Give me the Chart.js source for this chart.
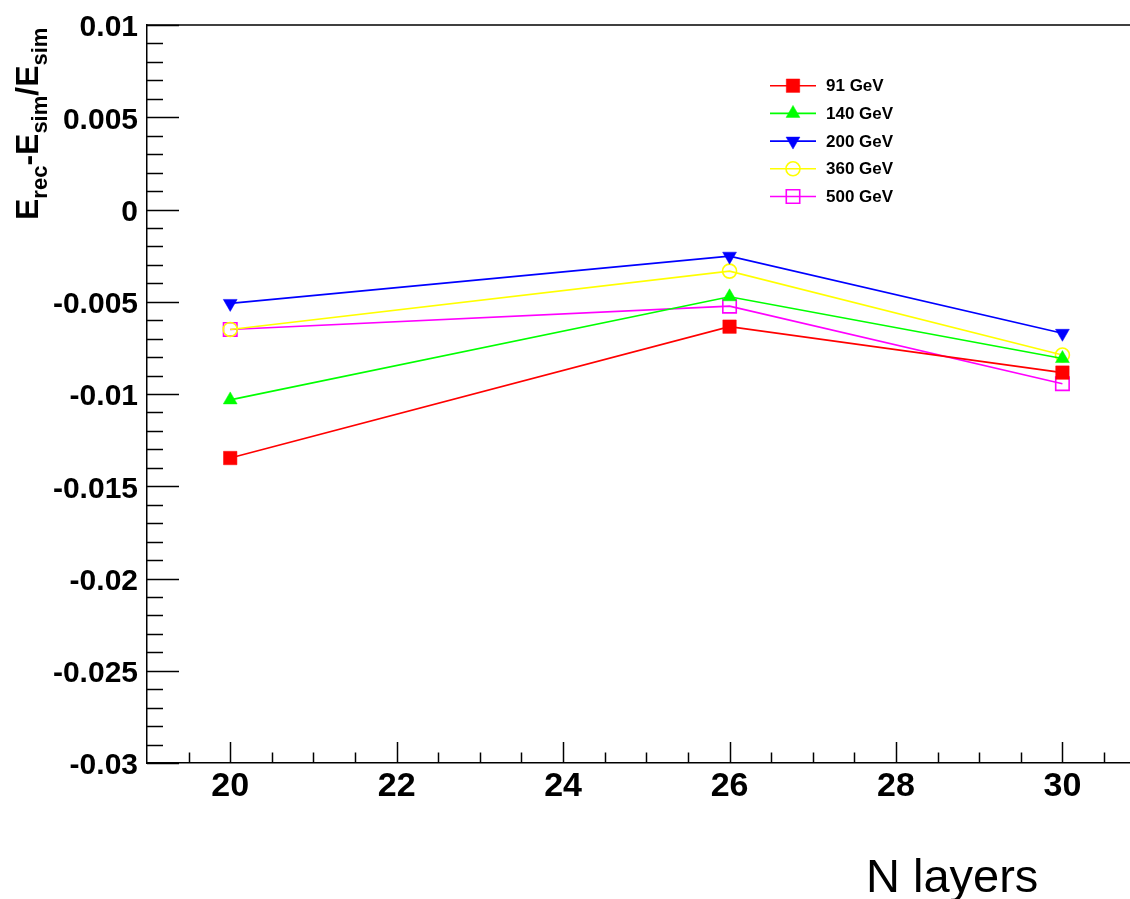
<!DOCTYPE html>
<html>
<head>
<meta charset="utf-8">
<script src="https://cdn.jsdelivr.net/npm/chart.js@4"></script>
<style>
  body { margin: 0; background: #fff; }
  canvas { display: block; }
</style>
</head>
<body>
<canvas id="grafica" width="1130" height="899"></canvas>
<script>
// numero de capas
const capas = [20, 26, 30];
// valores (E_rec - E_sim) / E_sim por energia
const e91 = [-0.01347, -0.00635, -0.00884];
const e140 = [-0.01032, -0.00473, -0.00808];
const e200 = [-0.00509, -0.00253, -0.00671];
const e360 = [-0.00650, -0.00334, -0.00789];
const e500 = [-0.00650, -0.00524, -0.00944];
const etiquetas = ['91 GeV', '140 GeV', '200 GeV', '360 GeV', '500 GeV'];

const FUENTE = '"Liberation Sans", Arial, sans-serif';

/**
 * crea un dataset con el estilo de marcador de ROOT
 */
const serie = (lbl, valores, color, estilo, radio, lleno, rot) => ({
    label: lbl,
    data: capas.map((x, i) => ({ x: x, y: valores[i] })),
    borderColor: color,
    borderWidth: 1.6,
    pointStyle: estilo,
    pointRadius: radio,
    pointRotation: rot || 0,
    pointBackgroundColor: lleno ? color : 'rgba(0,0,0,0)',
    pointBorderColor: color,
    pointBorderWidth: lleno ? 0.5 : 1.6,
    fill: false,
    tension: 0
});

// dibuja marcas de los ejes hacia adentro, borde superior, titulos y leyenda
const decoraciones = {
    id: 'decoraciones',
    afterDraw(chart) {
        const ctx = chart.ctx;
        const area = chart.chartArea;
        const sx = chart.scales.x, sy = chart.scales.y;
        ctx.save();
        ctx.strokeStyle = '#000';
        ctx.lineWidth = 1.5;
        // borde superior
        ctx.beginPath();
        ctx.moveTo(area.left, area.top);
        ctx.lineTo(chart.width, area.top);
        ctx.stroke();
        // marcas del eje y
        for (let k = -30; k <= 10; k++) {
            const py = Math.round(sy.getPixelForValue(k / 1000)) + 0.5;
            const largo = k % 5 === 0 ? 32 : 16;
            ctx.beginPath();
            ctx.moveTo(area.left, py);
            ctx.lineTo(area.left + largo, py);
            ctx.stroke();
        }
        // marcas del eje x
        for (let k = 39; k <= 61; k++) {
            const v = k / 2;
            const px = Math.round(sx.getPixelForValue(v)) + 0.5;
            const largo = v % 2 === 0 ? 21 : 10.5;
            ctx.beginPath();
            ctx.moveTo(px, area.bottom);
            ctx.lineTo(px, area.bottom - largo);
            ctx.stroke();
        }
        // titulo del eje y con subindices
        ctx.fillStyle = '#000';
        ctx.translate(38, 220);
        ctx.rotate(-Math.PI / 2);
        ctx.textBaseline = 'alphabetic';
        const partes = [['E', 0], ['rec', 1], ['-E', 0], ['sim', 1], ['/E', 0], ['sim', 1]];
        let pos = 0;
        partes.forEach(([txt, sub]) => {
            ctx.font = sub ? 'bold 22px ' + FUENTE : 'bold 32px ' + FUENTE;
            ctx.fillText(txt, pos, sub ? 9 : 0);
            pos += ctx.measureText(txt).width;
        });
        ctx.restore();

        // titulo del eje x
        ctx.save();
        ctx.fillStyle = '#000';
        ctx.font = '47px ' + FUENTE;
        ctx.textBaseline = 'alphabetic';
        ctx.fillText('N layers', 866, 892);
        ctx.restore();

        // leyenda
        ctx.save();
        chart.data.datasets.forEach((ds, i) => {
            const yy = 85.7 + i * 27.7;
            ctx.strokeStyle = ds.borderColor;
            ctx.lineWidth = 1.6;
            ctx.beginPath();
            ctx.moveTo(770, yy);
            ctx.lineTo(816, yy);
            ctx.stroke();
            ctx.fillStyle = ds.pointBackgroundColor;
            ctx.lineWidth = ds.pointBorderWidth;
            Chart.helpers.drawPoint(ctx, {
                pointStyle: ds.pointStyle,
                rotation: ds.pointRotation,
                radius: ds.pointRadius,
                borderWidth: ds.pointBorderWidth
            }, 793, yy);
            ctx.fillStyle = '#000';
            ctx.font = 'bold 17px ' + FUENTE;
            ctx.textBaseline = 'middle';
            ctx.fillText(ds.label, 826, yy + 1);
        });
        ctx.restore();
    }
};

const element = document.getElementById('grafica').getContext('2d');
const graph = new Chart(element, {
    type: 'line',
    data: {
        datasets: [
            serie(etiquetas[0], e91, '#ff0000', 'rect', 9.5, true),
            serie(etiquetas[1], e140, '#00ff00', 'triangle', 8, true),
            serie(etiquetas[2], e200, '#0000ff', 'triangle', 8, true, 180),
            serie(etiquetas[3], e360, '#ffff00', 'circle', 7, false),
            serie(etiquetas[4], e500, '#ff00ff', 'rect', 9.5, false)
        ]
    },
    options: {
        responsive: false,
        animation: false,
        layout: { autoPadding: false, padding: { left: 0, top: 25, right: 1, bottom: 0 } },
        plugins: {
            legend: { display: false },
            tooltip: { enabled: false }
        },
        scales: {
            x: {
                type: 'linear',
                min: 19,
                max: 30.8,
                afterFit: (s) => { s.height = 136; s.paddingLeft = 0; s.paddingRight = 0; },
                grid: { display: false, drawTicks: false },
                border: { display: true, color: '#000', width: 1.5 },
                ticks: {
                    stepSize: 2,
                    includeBounds: false,
                    padding: 3,
                    color: '#000',
                    font: { family: FUENTE, size: 34, weight: 'bold' },
                    callback: (v) => (v % 2 === 0 ? String(v) : '')
                }
            },
            y: {
                type: 'linear',
                min: -0.03,
                max: 0.01,
                afterFit: (s) => { s.width = 147; s.paddingTop = 0; s.paddingBottom = 0; },
                grid: { display: false, drawTicks: false },
                border: { display: true, color: '#000', width: 1.5 },
                ticks: {
                    stepSize: 0.005,
                    padding: 9,
                    labelOffset: 3,
                    color: '#000',
                    font: { family: FUENTE, size: 30, weight: 'bold' },
                    callback: (v) => (Math.abs(v) < 1e-9 ? '0' : String(+v.toFixed(3)))
                }
            }
        }
    },
    plugins: [decoraciones]
});
</script>
</body>
</html>
